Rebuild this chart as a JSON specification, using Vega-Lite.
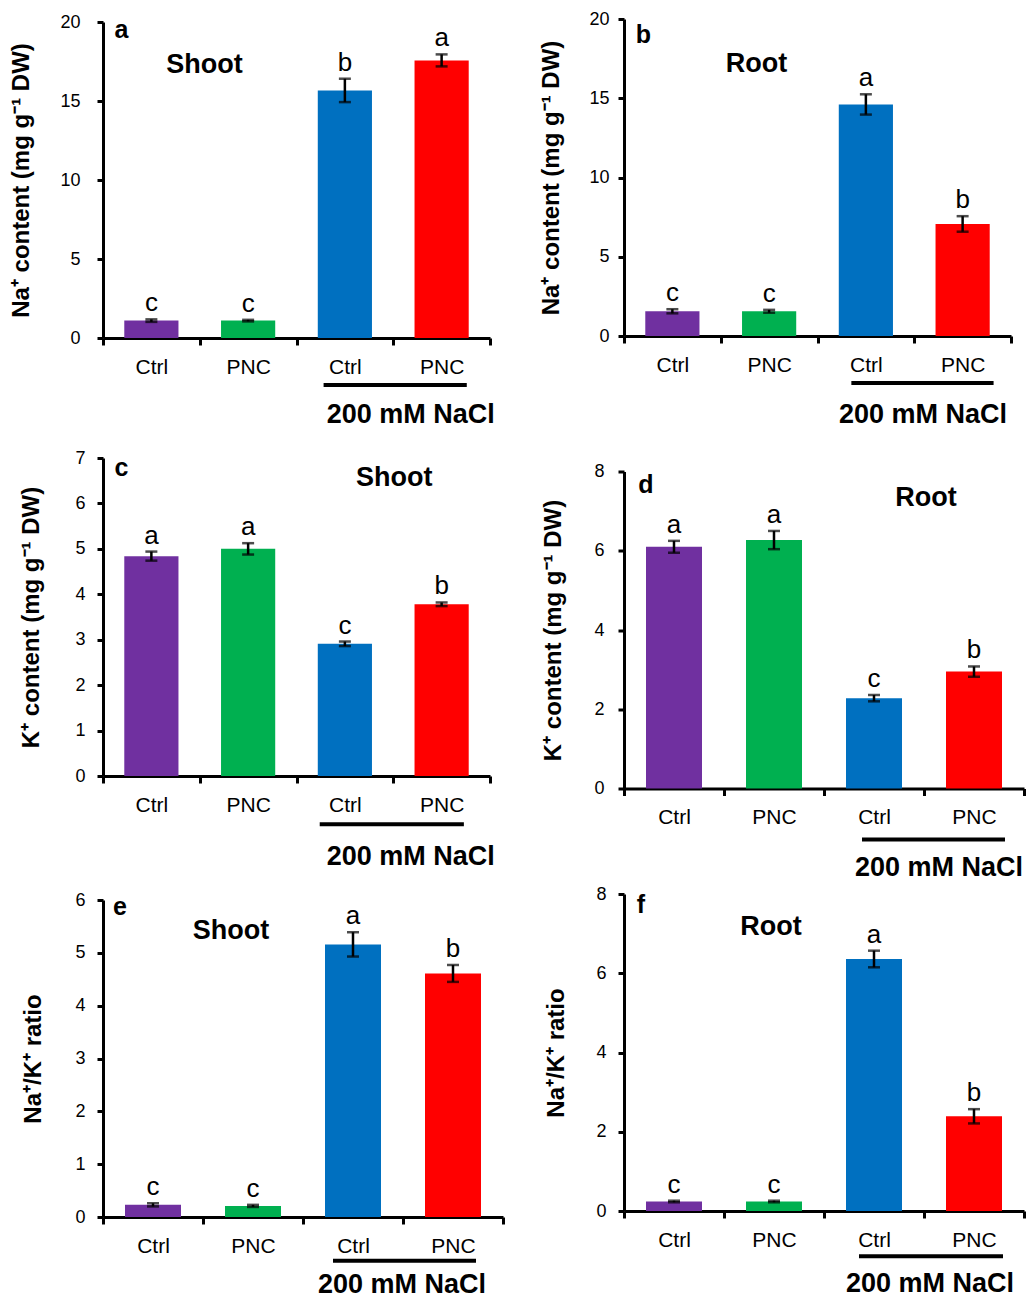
{
  "$schema": "https://vega.github.io/schema/vega-lite/v6.json",
  "padding": {"left": 9, "top": 10, "right": 0, "bottom": 0},
  "background": "white",
  "config": {
    "font": "Liberation Sans",
    "view": {"stroke": null},
    "axis": {"grid": false, "domainColor": "black", "tickColor": "black", "labelColor": "black", "titleColor": "black", "domainWidth": 3, "tickWidth": 3, "labelFont": "Liberation Sans", "titleFont": "Liberation Sans"},
    "axisX": {"title": null, "labelAngle": 0, "labelFontSize": 21, "labelPadding": 11, "tickSize": 7, "tickBand": "extent"},
    "axisY": {"labelFontSize": 18, "tickSize": 6, "titleFontSize": 24, "titleFontWeight": "bold"},
    "text": {"color": "black"}
  },
  "datasets": {
    "bars": [
      {"panel": "a", "cat": "Ctrl", "value": 1.10, "err": 0.08, "sig": "c"},
      {"panel": "a", "cat": "PNC", "value": 1.10, "err": 0.05, "sig": "c"},
      {"panel": "a", "cat": "NaCl Ctrl", "value": 15.67, "err": 0.74, "sig": "b"},
      {"panel": "a", "cat": "NaCl PNC", "value": 17.57, "err": 0.38, "sig": "a"},
      {"panel": "b", "cat": "Ctrl", "value": 1.56, "err": 0.13, "sig": "c"},
      {"panel": "b", "cat": "PNC", "value": 1.56, "err": 0.09, "sig": "c"},
      {"panel": "b", "cat": "NaCl Ctrl", "value": 14.61, "err": 0.64, "sig": "a"},
      {"panel": "b", "cat": "NaCl PNC", "value": 7.07, "err": 0.49, "sig": "b"},
      {"panel": "c", "cat": "Ctrl", "value": 4.84, "err": 0.10, "sig": "a"},
      {"panel": "c", "cat": "PNC", "value": 5.00, "err": 0.125, "sig": "a"},
      {"panel": "c", "cat": "NaCl Ctrl", "value": 2.91, "err": 0.05, "sig": "c"},
      {"panel": "c", "cat": "NaCl PNC", "value": 3.78, "err": 0.04, "sig": "b"},
      {"panel": "d", "cat": "Ctrl", "value": 6.10, "err": 0.15, "sig": "a"},
      {"panel": "d", "cat": "PNC", "value": 6.27, "err": 0.23, "sig": "a"},
      {"panel": "d", "cat": "NaCl Ctrl", "value": 2.28, "err": 0.08, "sig": "c"},
      {"panel": "d", "cat": "NaCl PNC", "value": 2.95, "err": 0.13, "sig": "b"},
      {"panel": "e", "cat": "Ctrl", "value": 0.23, "err": 0.03, "sig": "c"},
      {"panel": "e", "cat": "PNC", "value": 0.21, "err": 0.02, "sig": "c"},
      {"panel": "e", "cat": "NaCl Ctrl", "value": 5.16, "err": 0.23, "sig": "a"},
      {"panel": "e", "cat": "NaCl PNC", "value": 4.61, "err": 0.16, "sig": "b"},
      {"panel": "f", "cat": "Ctrl", "value": 0.24, "err": 0.02, "sig": "c"},
      {"panel": "f", "cat": "PNC", "value": 0.24, "err": 0.02, "sig": "c"},
      {"panel": "f", "cat": "NaCl Ctrl", "value": 6.36, "err": 0.21, "sig": "a"},
      {"panel": "f", "cat": "NaCl PNC", "value": 2.39, "err": 0.18, "sig": "b"}
    ]
  },
  "spacing": 34,
  "hconcat": [
    {
      "spacing": 20,
      "vconcat": [
        {
          "width": 387, "height": 319,
          "layer": [
            {"data": {"name": "bars"}, "transform": [{"filter": "datum.panel == 'a'"}],
             "layer": [
               {"mark": {"type": "bar", "width": {"band": 0.56}},
                "encoding": {
                  "x": {"field": "cat", "type": "nominal", "sort": null, "scale": {"paddingInner": 0, "paddingOuter": 0}, "axis": {"labelExpr": "replace(datum.label, 'NaCl ', '')"}},
                  "y": {"field": "value", "type": "quantitative", "title": "Na⁺ content (mg g⁻¹ DW)", "scale": {"domain": [0, 20], "nice": false, "range": [319, 3]}, "axis": {"values": [0, 5, 10, 15, 20], "labelPadding": 17, "titlePadding": 26}},
                  "color": {"field": "cat", "type": "nominal", "sort": null, "scale": {"domain": ["Ctrl", "PNC", "NaCl Ctrl", "NaCl PNC"], "range": ["#7030A0", "#00B050", "#0070C0", "#FF0000"]}, "legend": null}
                }},
               {"mark": {"type": "errorbar", "color": "black", "thickness": 2.5, "size": 12, "ticks": true},
                "encoding": {"x": {"field": "cat", "type": "nominal", "sort": null}, "y": {"field": "value", "type": "quantitative", "title": "Na⁺ content (mg g⁻¹ DW)"}, "yError": {"field": "err"}}},
               {"transform": [{"calculate": "datum.value + datum.err", "as": "top"}],
                "mark": {"type": "text", "fontSize": 26, "baseline": "alphabetic", "dy": -8},
                "encoding": {"x": {"field": "cat", "type": "nominal", "sort": null}, "y": {"field": "top", "type": "quantitative", "title": "Na⁺ content (mg g⁻¹ DW)"}, "text": {"field": "sig"}}}
             ]},
            {"data": {"values": [{}]},
             "layer": [
               {"mark": {"type": "text", "text": "a", "fontSize": 25, "fontWeight": "bold", "baseline": "alphabetic"},
                "encoding": {"x": {"datum": 0.19, "type": "quantitative", "scale": {"domain": [0, 4], "nice": false, "zero": false}, "axis": null}, "y": {"datum": 19.0, "type": "quantitative", "title": "Na⁺ content (mg g⁻¹ DW)"}}},
               {"mark": {"type": "text", "text": "Shoot", "fontSize": 27, "fontWeight": "bold", "baseline": "alphabetic"},
                "encoding": {"x": {"datum": 1.05, "type": "quantitative", "axis": null}, "y": {"datum": 16.8, "type": "quantitative", "title": "Na⁺ content (mg g⁻¹ DW)"}}},
               {"mark": {"type": "rule", "color": "black", "strokeWidth": 4},
                "encoding": {"x": {"datum": 2.28, "type": "quantitative", "axis": null}, "x2": {"datum": 3.76}, "y": {"datum": -2.97, "type": "quantitative", "title": "Na⁺ content (mg g⁻¹ DW)"}}},
               {"mark": {"type": "text", "text": "200 mM NaCl", "fontSize": 27, "fontWeight": "bold", "baseline": "alphabetic"},
                "encoding": {"x": {"datum": 3.18, "type": "quantitative", "axis": null}, "y": {"datum": -5.4, "type": "quantitative", "title": "Na⁺ content (mg g⁻¹ DW)"}}}
             ]}
          ],
          "resolve": {"scale": {"x": "independent"}}
        },
        {
          "width": 387, "height": 318,
          "layer": [
            {"data": {"name": "bars"}, "transform": [{"filter": "datum.panel == 'c'"}],
             "layer": [
               {"mark": {"type": "bar", "width": {"band": 0.56}},
                "encoding": {
                  "x": {"field": "cat", "type": "nominal", "sort": null, "scale": {"paddingInner": 0, "paddingOuter": 0}, "axis": {"labelExpr": "replace(datum.label, 'NaCl ', '')"}},
                  "y": {"field": "value", "type": "quantitative", "title": "K⁺ content (mg g⁻¹ DW)", "scale": {"domain": [0, 7], "nice": false}, "axis": {"values": [0, 1, 2, 3, 4, 5, 6, 7], "labelPadding": 12, "titlePadding": 31}},
                  "color": {"field": "cat", "type": "nominal", "sort": null, "scale": {"domain": ["Ctrl", "PNC", "NaCl Ctrl", "NaCl PNC"], "range": ["#7030A0", "#00B050", "#0070C0", "#FF0000"]}, "legend": null}
                }},
               {"mark": {"type": "errorbar", "color": "black", "thickness": 2.5, "size": 12, "ticks": true},
                "encoding": {"x": {"field": "cat", "type": "nominal", "sort": null}, "y": {"field": "value", "type": "quantitative", "title": "K⁺ content (mg g⁻¹ DW)"}, "yError": {"field": "err"}}},
               {"transform": [{"calculate": "datum.value + datum.err", "as": "top"}],
                "mark": {"type": "text", "fontSize": 26, "baseline": "alphabetic", "dy": -8},
                "encoding": {"x": {"field": "cat", "type": "nominal", "sort": null}, "y": {"field": "top", "type": "quantitative", "title": "K⁺ content (mg g⁻¹ DW)"}, "text": {"field": "sig"}}}
             ]},
            {"data": {"values": [{}]},
             "layer": [
               {"mark": {"type": "text", "text": "c", "fontSize": 25, "fontWeight": "bold", "baseline": "alphabetic"},
                "encoding": {"x": {"datum": 0.19, "type": "quantitative", "scale": {"domain": [0, 4], "nice": false, "zero": false}, "axis": null}, "y": {"datum": 6.6, "type": "quantitative", "title": "K⁺ content (mg g⁻¹ DW)"}}},
               {"mark": {"type": "text", "text": "Shoot", "fontSize": 27, "fontWeight": "bold", "baseline": "alphabetic"},
                "encoding": {"x": {"datum": 3.01, "type": "quantitative", "axis": null}, "y": {"datum": 6.39, "type": "quantitative", "title": "K⁺ content (mg g⁻¹ DW)"}}},
               {"mark": {"type": "rule", "color": "black", "strokeWidth": 4},
                "encoding": {"x": {"datum": 2.24, "type": "quantitative", "axis": null}, "x2": {"datum": 3.73}, "y": {"datum": -1.06, "type": "quantitative", "title": "K⁺ content (mg g⁻¹ DW)"}}},
               {"mark": {"type": "text", "text": "200 mM NaCl", "fontSize": 27, "fontWeight": "bold", "baseline": "alphabetic"},
                "encoding": {"x": {"datum": 3.18, "type": "quantitative", "axis": null}, "y": {"datum": -1.96, "type": "quantitative", "title": "K⁺ content (mg g⁻¹ DW)"}}}
             ]}
          ],
          "resolve": {"scale": {"x": "independent"}}
        },
        {
          "width": 400, "height": 317,
          "layer": [
            {"data": {"name": "bars"}, "transform": [{"filter": "datum.panel == 'e'"}],
             "layer": [
               {"mark": {"type": "bar", "width": {"band": 0.56}},
                "encoding": {
                  "x": {"field": "cat", "type": "nominal", "sort": null, "scale": {"paddingInner": 0, "paddingOuter": 0}, "axis": {"labelExpr": "replace(datum.label, 'NaCl ', '')"}},
                  "y": {"field": "value", "type": "quantitative", "title": "Na⁺/K⁺ ratio", "scale": {"domain": [0, 6], "nice": false}, "axis": {"values": [0, 1, 2, 3, 4, 5, 6], "labelPadding": 12, "titlePadding": 29}},
                  "color": {"field": "cat", "type": "nominal", "sort": null, "scale": {"domain": ["Ctrl", "PNC", "NaCl Ctrl", "NaCl PNC"], "range": ["#7030A0", "#00B050", "#0070C0", "#FF0000"]}, "legend": null}
                }},
               {"mark": {"type": "errorbar", "color": "black", "thickness": 2.5, "size": 12, "ticks": true},
                "encoding": {"x": {"field": "cat", "type": "nominal", "sort": null}, "y": {"field": "value", "type": "quantitative", "title": "Na⁺/K⁺ ratio"}, "yError": {"field": "err"}}},
               {"transform": [{"calculate": "datum.value + datum.err", "as": "top"}],
                "mark": {"type": "text", "fontSize": 26, "baseline": "alphabetic", "dy": -8},
                "encoding": {"x": {"field": "cat", "type": "nominal", "sort": null}, "y": {"field": "top", "type": "quantitative", "title": "Na⁺/K⁺ ratio"}, "text": {"field": "sig"}}}
             ]},
            {"data": {"values": [{}]},
             "layer": [
               {"mark": {"type": "text", "text": "e", "fontSize": 25, "fontWeight": "bold", "baseline": "alphabetic"},
                "encoding": {"x": {"datum": 0.17, "type": "quantitative", "scale": {"domain": [0, 4], "nice": false, "zero": false}, "axis": null}, "y": {"datum": 5.72, "type": "quantitative", "title": "Na⁺/K⁺ ratio"}}},
               {"mark": {"type": "text", "text": "Shoot", "fontSize": 27, "fontWeight": "bold", "baseline": "alphabetic"},
                "encoding": {"x": {"datum": 1.28, "type": "quantitative", "axis": null}, "y": {"datum": 5.26, "type": "quantitative", "title": "Na⁺/K⁺ ratio"}}},
               {"mark": {"type": "rule", "color": "black", "strokeWidth": 4},
                "encoding": {"x": {"datum": 2.3, "type": "quantitative", "axis": null}, "x2": {"datum": 3.73}, "y": {"datum": -0.83, "type": "quantitative", "title": "Na⁺/K⁺ ratio"}}},
               {"mark": {"type": "text", "text": "200 mM NaCl", "fontSize": 27, "fontWeight": "bold", "baseline": "alphabetic"},
                "encoding": {"x": {"datum": 2.99, "type": "quantitative", "axis": null}, "y": {"datum": -1.44, "type": "quantitative", "title": "Na⁺/K⁺ ratio"}}}
             ]}
          ],
          "resolve": {"scale": {"x": "independent"}}
        }
      ]
    },
    {
      "spacing": 3.5,
      "vconcat": [
        {
          "width": 387, "height": 317,
          "layer": [
            {"data": {"name": "bars"}, "transform": [{"filter": "datum.panel == 'b'"}],
             "layer": [
               {"mark": {"type": "bar", "width": {"band": 0.56}},
                "encoding": {
                  "x": {"field": "cat", "type": "nominal", "sort": null, "scale": {"paddingInner": 0, "paddingOuter": 0}, "axis": {"labelExpr": "replace(datum.label, 'NaCl ', '')"}},
                  "y": {"field": "value", "type": "quantitative", "title": "Na⁺ content (mg g⁻¹ DW)", "scale": {"domain": [0, 20], "nice": false}, "axis": {"values": [0, 5, 10, 15, 20], "labelPadding": 9, "titlePadding": 25}},
                  "color": {"field": "cat", "type": "nominal", "sort": null, "scale": {"domain": ["Ctrl", "PNC", "NaCl Ctrl", "NaCl PNC"], "range": ["#7030A0", "#00B050", "#0070C0", "#FF0000"]}, "legend": null}
                }},
               {"mark": {"type": "errorbar", "color": "black", "thickness": 2.5, "size": 12, "ticks": true},
                "encoding": {"x": {"field": "cat", "type": "nominal", "sort": null}, "y": {"field": "value", "type": "quantitative", "title": "Na⁺ content (mg g⁻¹ DW)"}, "yError": {"field": "err"}}},
               {"transform": [{"calculate": "datum.value + datum.err", "as": "top"}],
                "mark": {"type": "text", "fontSize": 26, "baseline": "alphabetic", "dy": -8},
                "encoding": {"x": {"field": "cat", "type": "nominal", "sort": null}, "y": {"field": "top", "type": "quantitative", "title": "Na⁺ content (mg g⁻¹ DW)"}, "text": {"field": "sig"}}}
             ]},
            {"data": {"values": [{}]},
             "layer": [
               {"mark": {"type": "text", "text": "b", "fontSize": 25, "fontWeight": "bold", "baseline": "alphabetic"},
                "encoding": {"x": {"datum": 0.2, "type": "quantitative", "scale": {"domain": [0, 4], "nice": false, "zero": false}, "axis": null}, "y": {"datum": 18.5, "type": "quantitative", "title": "Na⁺ content (mg g⁻¹ DW)"}}},
               {"mark": {"type": "text", "text": "Root", "fontSize": 27, "fontWeight": "bold", "baseline": "alphabetic"},
                "encoding": {"x": {"datum": 1.37, "type": "quantitative", "axis": null}, "y": {"datum": 16.65, "type": "quantitative", "title": "Na⁺ content (mg g⁻¹ DW)"}}},
               {"mark": {"type": "rule", "color": "black", "strokeWidth": 4},
                "encoding": {"x": {"datum": 2.35, "type": "quantitative", "axis": null}, "x2": {"datum": 3.82}, "y": {"datum": -2.97, "type": "quantitative", "title": "Na⁺ content (mg g⁻¹ DW)"}}},
               {"mark": {"type": "text", "text": "200 mM NaCl", "fontSize": 27, "fontWeight": "bold", "baseline": "alphabetic"},
                "encoding": {"x": {"datum": 3.09, "type": "quantitative", "axis": null}, "y": {"datum": -5.49, "type": "quantitative", "title": "Na⁺ content (mg g⁻¹ DW)"}}}
             ]}
          ],
          "resolve": {"scale": {"x": "independent"}}
        },
        {
          "width": 400, "height": 356,
          "layer": [
            {"data": {"name": "bars"}, "transform": [{"filter": "datum.panel == 'd'"}],
             "layer": [
               {"mark": {"type": "bar", "width": {"band": 0.56}},
                "encoding": {
                  "x": {"field": "cat", "type": "nominal", "sort": null, "scale": {"paddingInner": 0, "paddingOuter": 0}, "axis": {"labelExpr": "replace(datum.label, 'NaCl ', '')"}},
                  "y": {"field": "value", "type": "quantitative", "title": "K⁺ content (mg g⁻¹ DW)", "scale": {"domain": [0, 8], "nice": false, "range": [356, 39]}, "axis": {"values": [0, 2, 4, 6, 8], "labelPadding": 14, "titlePadding": 28}},
                  "color": {"field": "cat", "type": "nominal", "sort": null, "scale": {"domain": ["Ctrl", "PNC", "NaCl Ctrl", "NaCl PNC"], "range": ["#7030A0", "#00B050", "#0070C0", "#FF0000"]}, "legend": null}
                }},
               {"mark": {"type": "errorbar", "color": "black", "thickness": 2.5, "size": 12, "ticks": true},
                "encoding": {"x": {"field": "cat", "type": "nominal", "sort": null}, "y": {"field": "value", "type": "quantitative", "title": "K⁺ content (mg g⁻¹ DW)"}, "yError": {"field": "err"}}},
               {"transform": [{"calculate": "datum.value + datum.err", "as": "top"}],
                "mark": {"type": "text", "fontSize": 26, "baseline": "alphabetic", "dy": -8},
                "encoding": {"x": {"field": "cat", "type": "nominal", "sort": null}, "y": {"field": "top", "type": "quantitative", "title": "K⁺ content (mg g⁻¹ DW)"}, "text": {"field": "sig"}}}
             ]},
            {"data": {"values": [{}]},
             "layer": [
               {"mark": {"type": "text", "text": "d", "fontSize": 25, "fontWeight": "bold", "baseline": "alphabetic"},
                "encoding": {"x": {"datum": 0.22, "type": "quantitative", "scale": {"domain": [0, 4], "nice": false, "zero": false}, "axis": null}, "y": {"datum": 7.45, "type": "quantitative", "title": "K⁺ content (mg g⁻¹ DW)"}}},
               {"mark": {"type": "text", "text": "Root", "fontSize": 27, "fontWeight": "bold", "baseline": "alphabetic"},
                "encoding": {"x": {"datum": 3.02, "type": "quantitative", "axis": null}, "y": {"datum": 7.12, "type": "quantitative", "title": "K⁺ content (mg g⁻¹ DW)"}}},
               {"mark": {"type": "rule", "color": "black", "strokeWidth": 4},
                "encoding": {"x": {"datum": 2.38, "type": "quantitative", "axis": null}, "x2": {"datum": 3.81}, "y": {"datum": -1.29, "type": "quantitative", "title": "K⁺ content (mg g⁻¹ DW)"}}},
               {"mark": {"type": "text", "text": "200 mM NaCl", "fontSize": 27, "fontWeight": "bold", "baseline": "alphabetic"},
                "encoding": {"x": {"datum": 3.15, "type": "quantitative", "axis": null}, "y": {"datum": -2.22, "type": "quantitative", "title": "K⁺ content (mg g⁻¹ DW)"}}}
             ]}
          ],
          "resolve": {"scale": {"x": "independent"}}
        },
        {
          "width": 400, "height": 317,
          "layer": [
            {"data": {"name": "bars"}, "transform": [{"filter": "datum.panel == 'f'"}],
             "layer": [
               {"mark": {"type": "bar", "width": {"band": 0.56}},
                "encoding": {
                  "x": {"field": "cat", "type": "nominal", "sort": null, "scale": {"paddingInner": 0, "paddingOuter": 0}, "axis": {"labelExpr": "replace(datum.label, 'NaCl ', '')"}},
                  "y": {"field": "value", "type": "quantitative", "title": "Na⁺/K⁺ ratio", "scale": {"domain": [0, 8], "nice": false}, "axis": {"values": [0, 2, 4, 6, 8], "labelPadding": 12, "titlePadding": 27}},
                  "color": {"field": "cat", "type": "nominal", "sort": null, "scale": {"domain": ["Ctrl", "PNC", "NaCl Ctrl", "NaCl PNC"], "range": ["#7030A0", "#00B050", "#0070C0", "#FF0000"]}, "legend": null}
                }},
               {"mark": {"type": "errorbar", "color": "black", "thickness": 2.5, "size": 12, "ticks": true},
                "encoding": {"x": {"field": "cat", "type": "nominal", "sort": null}, "y": {"field": "value", "type": "quantitative", "title": "Na⁺/K⁺ ratio"}, "yError": {"field": "err"}}},
               {"transform": [{"calculate": "datum.value + datum.err", "as": "top"}],
                "mark": {"type": "text", "fontSize": 26, "baseline": "alphabetic", "dy": -8},
                "encoding": {"x": {"field": "cat", "type": "nominal", "sort": null}, "y": {"field": "top", "type": "quantitative", "title": "Na⁺/K⁺ ratio"}, "text": {"field": "sig"}}}
             ]},
            {"data": {"values": [{}]},
             "layer": [
               {"mark": {"type": "text", "text": "f", "fontSize": 25, "fontWeight": "bold", "baseline": "alphabetic"},
                "encoding": {"x": {"datum": 0.17, "type": "quantitative", "scale": {"domain": [0, 4], "nice": false, "zero": false}, "axis": null}, "y": {"datum": 7.52, "type": "quantitative", "title": "Na⁺/K⁺ ratio"}}},
               {"mark": {"type": "text", "text": "Root", "fontSize": 27, "fontWeight": "bold", "baseline": "alphabetic"},
                "encoding": {"x": {"datum": 1.47, "type": "quantitative", "axis": null}, "y": {"datum": 6.97, "type": "quantitative", "title": "Na⁺/K⁺ ratio"}}},
               {"mark": {"type": "rule", "color": "black", "strokeWidth": 4},
                "encoding": {"x": {"datum": 2.35, "type": "quantitative", "axis": null}, "x2": {"datum": 3.79}, "y": {"datum": -1.14, "type": "quantitative", "title": "Na⁺/K⁺ ratio"}}},
               {"mark": {"type": "text", "text": "200 mM NaCl", "fontSize": 27, "fontWeight": "bold", "baseline": "alphabetic"},
                "encoding": {"x": {"datum": 3.06, "type": "quantitative", "axis": null}, "y": {"datum": -2.05, "type": "quantitative", "title": "Na⁺/K⁺ ratio"}}}
             ]}
          ],
          "resolve": {"scale": {"x": "independent"}}
        }
      ]
    }
  ]
}
